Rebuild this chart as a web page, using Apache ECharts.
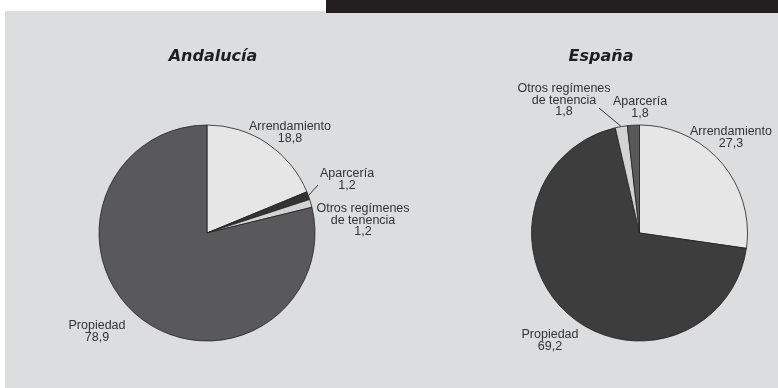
<!DOCTYPE html>
<html>
<head>
<meta charset="utf-8">
<script src="https://cdn.jsdelivr.net/npm/echarts@6/dist/echarts.min.js"></script>
<style>
html,body{margin:0;padding:0;background:#ffffff;}
#chart{width:778px;height:388px;}
</style>
</head>
<body>
<div id="chart"></div>
<script>
// ---- data ----
var titles = ['Andalucía', 'España'];
var andaluciaNames = ['Arrendamiento', 'Aparcería', 'Otros regímenes\nde tenencia', 'Propiedad'];
var andaluciaValues = [18.8, 1.2, 1.2, 78.9];
var espanaNames = ['Arrendamiento', 'Propiedad', 'Otros regímenes\nde tenencia', 'Aparcería'];
var espanaValues = [27.3, 69.2, 1.8, 1.8];

// ---- styles / layout (not data) ----
var andaluciaColors = ['#e6e6e7', '#333333', '#d3d3d4', '#59595b'];
var espanaColors = ['#e6e6e7', '#3d3d3d', '#d3d3d4', '#59595b'];
// label anchor (center x, top y) per slice
var andaluciaLabelPos = [[290, 121], [347, 168], [363, 203], [97, 320]];
var espanaLabelPos = [[731, 126], [550, 329], [564, 83], [640, 96]];
// guide line end, relative to label anchor (null = no line)
var andaluciaLineEnd = [null, [-29, 17], null, null];
var espanaLineEnd = [null, null, [35, 25], null];

function fmt(v) { return v.toFixed(1).replace('.', ','); }

function buildData(names, values, colors, lineEnd) {
  return names.map(function (n, i) {
    return {
      name: n,
      value: values[i],
      itemStyle: { color: colors[i] },
      labelLine: { show: !!lineEnd[i] }
    };
  });
}

function pieSeries(names, values, colors, lineEnd, center, labelPos) {
  return {
    type: 'pie',
    center: center,
    radius: 108,
    startAngle: 90,
    clockwise: true,
    animation: false,
    silent: true,
    avoidLabelOverlap: false,
    itemStyle: { borderColor: '#222222', borderWidth: 0.8 },
    label: {
      show: true,
      position: 'outside',
      formatter: function (p) { return p.name + '\n' + fmt(p.value); },
      fontFamily: 'Liberation Sans, Arial, sans-serif',
      fontSize: 12.5,
      lineHeight: 11.5,
      color: '#333333',
      align: 'center'
    },
    labelLine: {
      show: false,
      length: 4,
      length2: 4,
      lineStyle: { color: '#222222', width: 0.9 }
    },
    labelLayout: function (p) {
      var pos = labelPos[p.dataIndex];
      var out = { x: pos[0], y: pos[1], align: 'center', verticalAlign: 'top' };
      var le = lineEnd[p.dataIndex];
      if (le && p.labelLinePoints && p.labelLinePoints.length) {
        var s = p.labelLinePoints[0];
        out.labelLinePoints = [[s[0], s[1]], [pos[0] + le[0], pos[1] + le[1]]];
      }
      return out;
    },
    data: buildData(names, values, colors, lineEnd)
  };
}

var chart = echarts.init(document.getElementById('chart'), null, { renderer: 'canvas' });
chart.setOption({
  backgroundColor: '#ffffff',
  animation: false,
  graphic: [
    { type: 'rect', z: -10, shape: { x: 5, y: 11, width: 773, height: 377 }, style: { fill: '#dcdddf' }, silent: true },
    { type: 'rect', z: -9, shape: { x: 326, y: 0, width: 452, height: 13 }, style: { fill: '#231f20' }, silent: true }
  ],
  title: [
    { text: titles[0], left: 208, top: 44, textAlign: 'center',
      textStyle: { fontFamily: 'DejaVu Sans', fontStyle: 'oblique', fontWeight: 'bold', fontSize: 16, color: '#1f1f1f' } },
    { text: titles[1], left: 596, top: 44, textAlign: 'center',
      textStyle: { fontFamily: 'DejaVu Sans', fontStyle: 'oblique', fontWeight: 'bold', fontSize: 16, color: '#1f1f1f' } }
  ],
  series: [
    pieSeries(andaluciaNames, andaluciaValues, andaluciaColors, andaluciaLineEnd, [207, 233], andaluciaLabelPos),
    pieSeries(espanaNames, espanaValues, espanaColors, espanaLineEnd, [639.5, 233], espanaLabelPos)
  ]
});
</script>
</body>
</html>
